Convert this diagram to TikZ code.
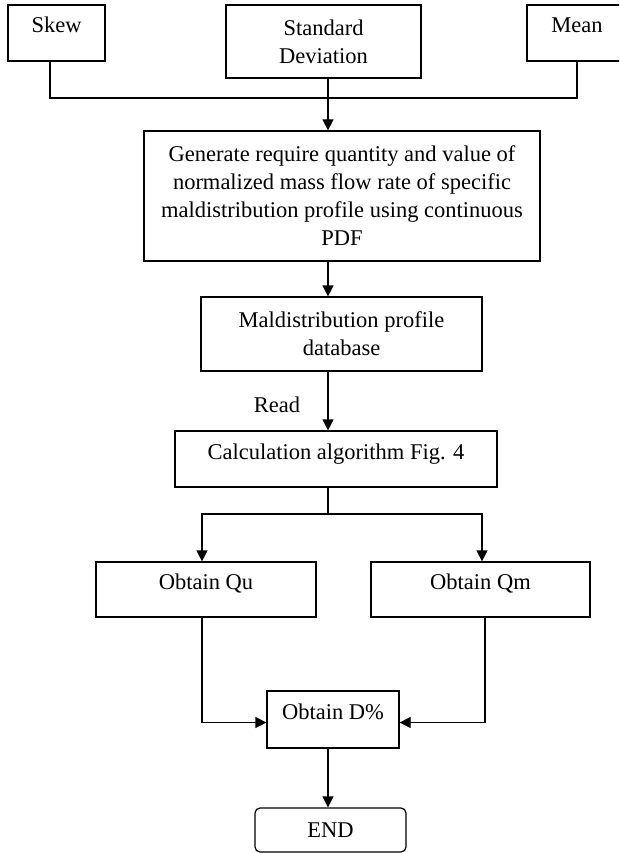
\documentclass[tikz,border=0pt]{standalone}
\usepackage{fontspec}
\setmainfont{Liberation Serif}
\usetikzlibrary{arrows.meta}

\begin{document}
\begin{tikzpicture}[x=1pt,y=-1pt,
  box/.style={draw,line width=1.2pt,align=center,inner sep=0pt,font=\fontsize{22.5}{28}\selectfont},
  one/.style={text height=15pt,text depth=15pt},
  lbl/.style={inner sep=0pt,font=\fontsize{22.5}{28}\selectfont},
  ln/.style={line width=1.2pt},
  arr/.style={line width=1.2pt,-{Triangle[width=11pt,length=11pt]}}]
\clip (0,0) rectangle (619,853);
\coordinate (SP) at (328,0);
\coordinate (BUS) at (328,98);
\coordinate (SPL) at (328,514);
% inputs
\node[box,one,minimum width=97pt,minimum height=56pt] (SK) at (56.5,33) {Skew};
\node[box,minimum width=195pt,minimum height=73pt] (SD) at (323.5,41.5) {Standard\\Deviation};
\node[box,one,minimum width=100pt,minimum height=56pt] (MN) at (577,33) {Mean};
% main chain
\node[box,minimum width=396pt,minimum height=130pt] (GEN) at (342,196) {Generate require quantity and value of\\normalized mass flow rate of specific\\maldistribution profile using continuous\\PDF};
\node[box,minimum width=281pt,minimum height=74pt] (MAL) at (341.5,334) {Maldistribution profile\\database};
\node[box,one,minimum width=322pt,minimum height=56pt] (CAL) at (336,459) {Calculation algorithm Fig. 4};
\node[lbl] (READ) at (277,404.5) {Read};
\node[box,one,minimum width=220pt,minimum height=55pt] (QU) at (206,589.5) {Obtain Qu};
\node[box,one,minimum width=219pt,minimum height=55pt] (QM) at (480.5,589.5) {Obtain Qm};
\node[box,one,minimum width=132pt,minimum height=57pt] (DP) at (333,719.5) {Obtain D\%};
\node[box,rounded corners=5pt,minimum width=151pt,minimum height=44pt] (END) at (330.5,830) {END};
% connectors
\draw[ln] ([xshift=-6.5pt]SK.south) |- (BUS) -| (MN.south);
\draw[arr] (SD.south -| SP) -- (GEN.north -| SP);
\draw[arr] (GEN.south -| SP) -- (MAL.north -| SP);
\draw[arr] (MAL.south -| SP) -- (CAL.north -| SP);
\draw[ln] (CAL.south -| SP) -- (SPL);
\draw[arr] (SPL) -| ([xshift=-4pt]QU.north);
\draw[arr] (SPL) -| ([xshift=1.5pt]QM.north);
\draw[arr] ([xshift=-4pt]QU.south) |- ([yshift=-3pt]DP.west);
\draw[arr] ([xshift=4.5pt]QM.south) |- ([yshift=-3pt]DP.east);
\draw[arr] (DP.south -| SP) -- (END.north -| SP);
\end{tikzpicture}
\end{document}
